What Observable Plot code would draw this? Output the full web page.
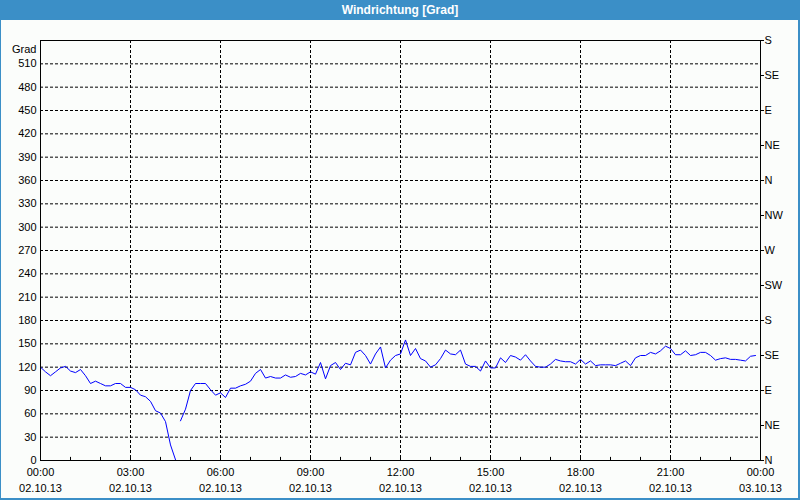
<!DOCTYPE html>
<html>
<head>
<meta charset="utf-8">
<script src="https://cdn.jsdelivr.net/npm/d3@7"></script>
<script src="https://cdn.jsdelivr.net/npm/@observablehq/plot@0.6"></script>
<style>
  html, body { margin: 0; padding: 0; background: #fbfdfb; }
  #wrap { position: relative; width: 800px; height: 500px; overflow: hidden; background: #fbfdfb; font-family: "Liberation Sans", Arial, sans-serif; }
  #title { height: 20px; line-height: 20px; background: #3b8fc7; color: #fff; text-align: center; font-weight: bold; font-size: 12px; }
  #border { position: absolute; left: 0; top: 0; width: 800px; height: 500px; box-sizing: border-box; border-left: 1px solid #3b8fc7; border-right: 2px solid #3b8fc7; border-bottom: 2px solid #3b8fc7; pointer-events: none; }
  svg { display: block; }
</style>
</head>
<body>
<div id="wrap">
  <div id="title">Windrichtung [Grad]</div>
  <div id="chart"></div>
  <div id="border"></div>
</div>
<script>
// Wind direction readings every 10 minutes from 02.10.13 00:00 (degrees)
const startTime = Date.UTC(2013, 9, 2, 0, 0);
const endTime = Date.UTC(2013, 9, 3, 0, 0);
const stepMinutes = 10;
const gapAfterIndex = 27; // line break (direction wraps below 0°)
const values = [
  120, 114, 109, 114, 119, 121, 115, 113, 117, 109,
  99, 102, 99, 96, 96, 99, 99, 94, 94, 91,
  84, 82, 76, 64, 61, 50, 20, 1, 51, 66,
  90, 99, 99, 99, 91, 84, 87, 81, 93, 93,
  96, 98, 102, 112, 117, 106, 108, 106, 106, 110,
  107, 108, 112, 110, 114, 111, 126, 105, 122, 126,
  117, 125, 123, 139, 142, 135, 124, 137, 146, 119,
  129, 135, 137, 155, 135, 144, 131, 128, 120, 123,
  131, 142, 137, 136, 142, 124, 121, 121, 115, 128,
  119, 119, 132, 126, 135, 133, 129, 136, 128, 121,
  120, 120, 124, 130, 128, 127, 127, 124, 130, 124,
  128, 122, 123, 123, 123, 122, 125, 128, 122, 132,
  135, 135, 139, 137, 141, 147, 144, 136, 136, 141,
  135, 136, 139, 139, 135, 129, 131, 132, 130, 130,
  129, 128, 134, 135
];
const yTicks = [0, 30, 60, 90, 120, 150, 180, 210, 240, 270, 300, 330, 360, 390, 420, 450, 480, 510];
const yGrid = [30, 60, 90, 120, 150, 180, 210, 240, 270, 300, 330, 360, 390, 420, 450, 480, 510];
const compassTicks = [0, 45, 90, 135, 180, 225, 270, 315, 360, 405, 450, 495, 540];
const compassLabels = ["N", "NE", "E", "SE", "S", "SW", "W", "NW", "N", "NE", "E", "SE", "S"];
const xLabelHours = [0, 3, 6, 9, 12, 15, 18, 21, 24];
const xTimeLabels = ["00:00", "03:00", "06:00", "09:00", "12:00", "15:00", "18:00", "21:00", "00:00"];
const xDateLabels = ["02.10.13", "02.10.13", "02.10.13", "02.10.13", "02.10.13", "02.10.13", "02.10.13", "02.10.13", "03.10.13"];
const xGridHours = [3, 6, 9, 12, 15, 18, 21];
const minorTickHours = d3.range(1, 24);

const hourDate = h => new Date(startTime + h * 3600000);
const data = [];
values.forEach((v, i) => {
  const t = new Date(startTime + i * stepMinutes * 60000);
  data.push({t, v});
  if (i === gapAfterIndex) data.push({t: new Date(t.getTime() + 5 * 60000), v: NaN});
});
const xLabels = xLabelHours.map((h, i) => ({t: hourDate(h), time: xTimeLabels[i], date: xDateLabels[i]}));

const chart = Plot.plot({
  width: 800,
  height: 480,
  marginTop: 20,
  marginBottom: 40,
  marginLeft: 40,
  marginRight: 40,
  style: {background: "transparent", color: "black", fontFamily: "'Liberation Sans', Arial, sans-serif", fontSize: "11px"},
  x: {type: "utc", domain: [new Date(startTime), new Date(endTime)], axis: null},
  y: {domain: [0, 540], axis: null},
  marks: [
    Plot.ruleY(yGrid, {stroke: "black", strokeDasharray: "3,2", strokeWidth: 1}),
    Plot.ruleX(xGridHours.map(hourDate), {stroke: "black", strokeDasharray: "3,2", strokeWidth: 1}),
    Plot.axisY(yTicks, {anchor: "left", tickSize: 0, tickPadding: 4, label: null, fontSize: 11}),
    Plot.axisY(compassTicks, {anchor: "right", tickSize: 3, tickPadding: 1, label: null, tickFormat: (d, i) => compassLabels[i], fontSize: 11}),
    Plot.text(["Grad"], {frameAnchor: "top-left", dx: -4, dy: 5, textAnchor: "end", fill: "black", fontSize: 11}),
    Plot.ruleX(minorTickHours.map(hourDate), {y1: 0, y2: 4, stroke: "black"}),
    Plot.text(xLabels, {x: "t", text: "time", frameAnchor: "bottom", dy: 15, fill: "black", fontSize: 11}),
    Plot.text(xLabels, {x: "t", text: "date", frameAnchor: "bottom", dy: 31, fill: "black", fontSize: 11}),
    Plot.line(data, {x: "t", y: "v", stroke: "#0000ff", strokeWidth: 1, clip: true}),
    Plot.frame({stroke: "black", strokeWidth: 1})
  ]
});
document.getElementById("chart").appendChild(chart);
</script>
</body>
</html>
